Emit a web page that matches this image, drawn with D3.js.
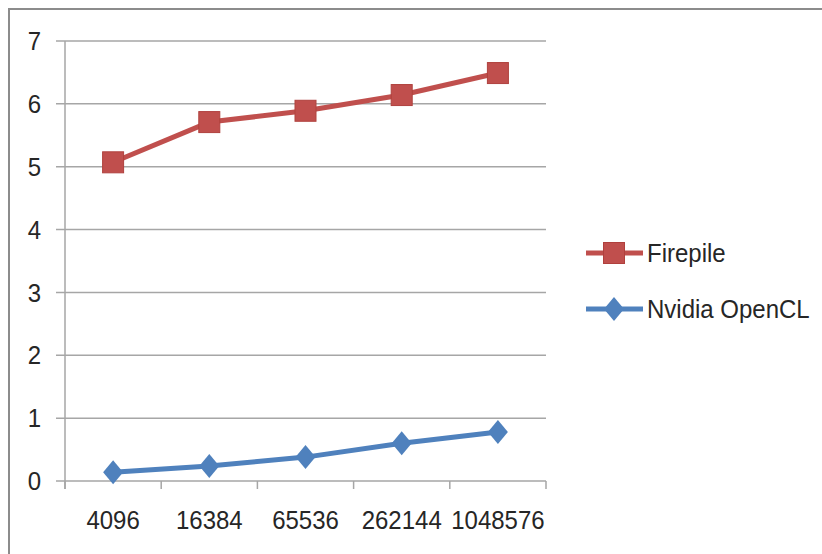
<!DOCTYPE html>
<html>
<head>
<meta charset="utf-8">
<script src="https://cdn.jsdelivr.net/npm/d3@7"></script>
<style>
  html, body { margin: 0; padding: 0; background: #fff; }
  svg { display: block; font-family: "Liberation Sans", Arial, sans-serif; }
</style>
</head>
<body>
<svg id="chart" width="822" height="554"></svg>
<script>
// Problem sizes on the category axis
const sizes = ["4096", "16384", "65536", "262144", "1048576"];
// Timings per implementation
const firepile = [5.07, 5.71, 5.89, 6.14, 6.49];
const nvidiaOpenCL = [0.14, 0.24, 0.38, 0.60, 0.78];
const yTicks = [0, 1, 2, 3, 4, 5, 6, 7];

const series = [
  { name: "Firepile", values: firepile, color: "#C0504D", marker: "square" },
  { name: "Nvidia OpenCL", values: nvidiaOpenCL, color: "#4F81BD", marker: "diamond" }
];

const svg = d3.select("#chart");
const plot = { left: 65, right: 546, top: 41, bottom: 481 };

// Outer chart frame (extends past the right/bottom edge)
svg.append("rect")
  .attr("x", 9).attr("y", 9)
  .attr("width", 900).attr("height", 700)
  .attr("fill", "none").attr("stroke", "#8c8c8c").attr("stroke-width", 2);

const x = d3.scaleBand().domain(sizes).range([plot.left, plot.right]);
const y = d3.scaleLinear().domain([0, 7]).range([plot.bottom, plot.top]);

// Horizontal gridlines
svg.append("g").selectAll("line").data(yTicks).join("line")
  .attr("x1", plot.left - 9).attr("x2", plot.right)
  .attr("y1", d => y(d)).attr("y2", d => y(d))
  .attr("stroke", "#a6a6a6").attr("stroke-width", 1.5);

// Y axis line
svg.append("line")
  .attr("x1", plot.left).attr("x2", plot.left)
  .attr("y1", plot.top).attr("y2", plot.bottom + 8)
  .attr("stroke", "#a6a6a6").attr("stroke-width", 1.5);

// Category tick marks along the bottom
const bounds = sizes.map(s => x(s)).concat([plot.right]);
svg.append("g").selectAll("line").data(bounds).join("line")
  .attr("x1", d => d).attr("x2", d => d)
  .attr("y1", plot.bottom).attr("y2", plot.bottom + 8)
  .attr("stroke", "#a6a6a6").attr("stroke-width", 1.5);

// Y tick labels
svg.append("g").selectAll("text").data(yTicks).join("text")
  .attr("transform", d => `translate(41,${y(d)}) scale(1,1.05)`)
  .attr("dy", "0.36em")
  .attr("text-anchor", "end")
  .attr("font-size", 24).attr("fill", "#262626")
  .text(d => d);

// X tick labels
svg.append("g").selectAll("text").data(sizes).join("text")
  .attr("transform", d => `translate(${x(d) + x.bandwidth() / 2},529) scale(1,1.1)`)
  .attr("text-anchor", "middle")
  .attr("font-size", 24).attr("fill", "#262626")
  .text(d => d);

const defs = svg.append("defs");
defs.append("filter").attr("id", "soft")
  .attr("x", "-10%").attr("y", "-10%").attr("width", "120%").attr("height", "120%")
  .append("feGaussianBlur").attr("stdDeviation", 0.5);

const line = d3.line()
  .x((d, i) => x(sizes[i]) + x.bandwidth() / 2)
  .y(d => y(d));

function drawMarker(g, type, cx, cy, color) {
  if (type === "square") {
    g.append("rect")
      .attr("x", cx - 10.5).attr("y", cy - 10.5)
      .attr("width", 21).attr("height", 21)
      .attr("fill", color).attr("stroke", "#b0413e").attr("stroke-width", 1);
  } else {
    g.append("path")
      .attr("d", `M${cx},${cy - 12}L${cx + 10},${cy}L${cx},${cy + 12}L${cx - 10},${cy}Z`)
      .attr("fill", color);
  }
}

series.forEach(s => {
  const g = svg.append("g").attr("filter", "url(#soft)");
  g.append("path")
    .datum(s.values)
    .attr("d", line)
    .attr("fill", "none")
    .attr("stroke", s.color)
    .attr("stroke-width", 5)
    .attr("stroke-linejoin", "round");
  s.values.forEach((v, i) => {
    drawMarker(g, s.marker, x(sizes[i]) + x.bandwidth() / 2, y(v), s.color);
  });
});

// Legend
const legendY = [253, 309];
series.forEach((s, i) => {
  const g = svg.append("g").attr("filter", "url(#soft)");
  g.append("line")
    .attr("x1", 586).attr("x2", 643)
    .attr("y1", legendY[i]).attr("y2", legendY[i])
    .attr("stroke", s.color).attr("stroke-width", 5);
  drawMarker(g, s.marker, 614, legendY[i], s.color);
  svg.append("text")
    .attr("transform", `translate(647,${legendY[i] + 9}) scale(1,1.05)`)
    .attr("font-size", 24).attr("fill", "#262626")
    .text(s.name);
});
</script>
</body>
</html>
